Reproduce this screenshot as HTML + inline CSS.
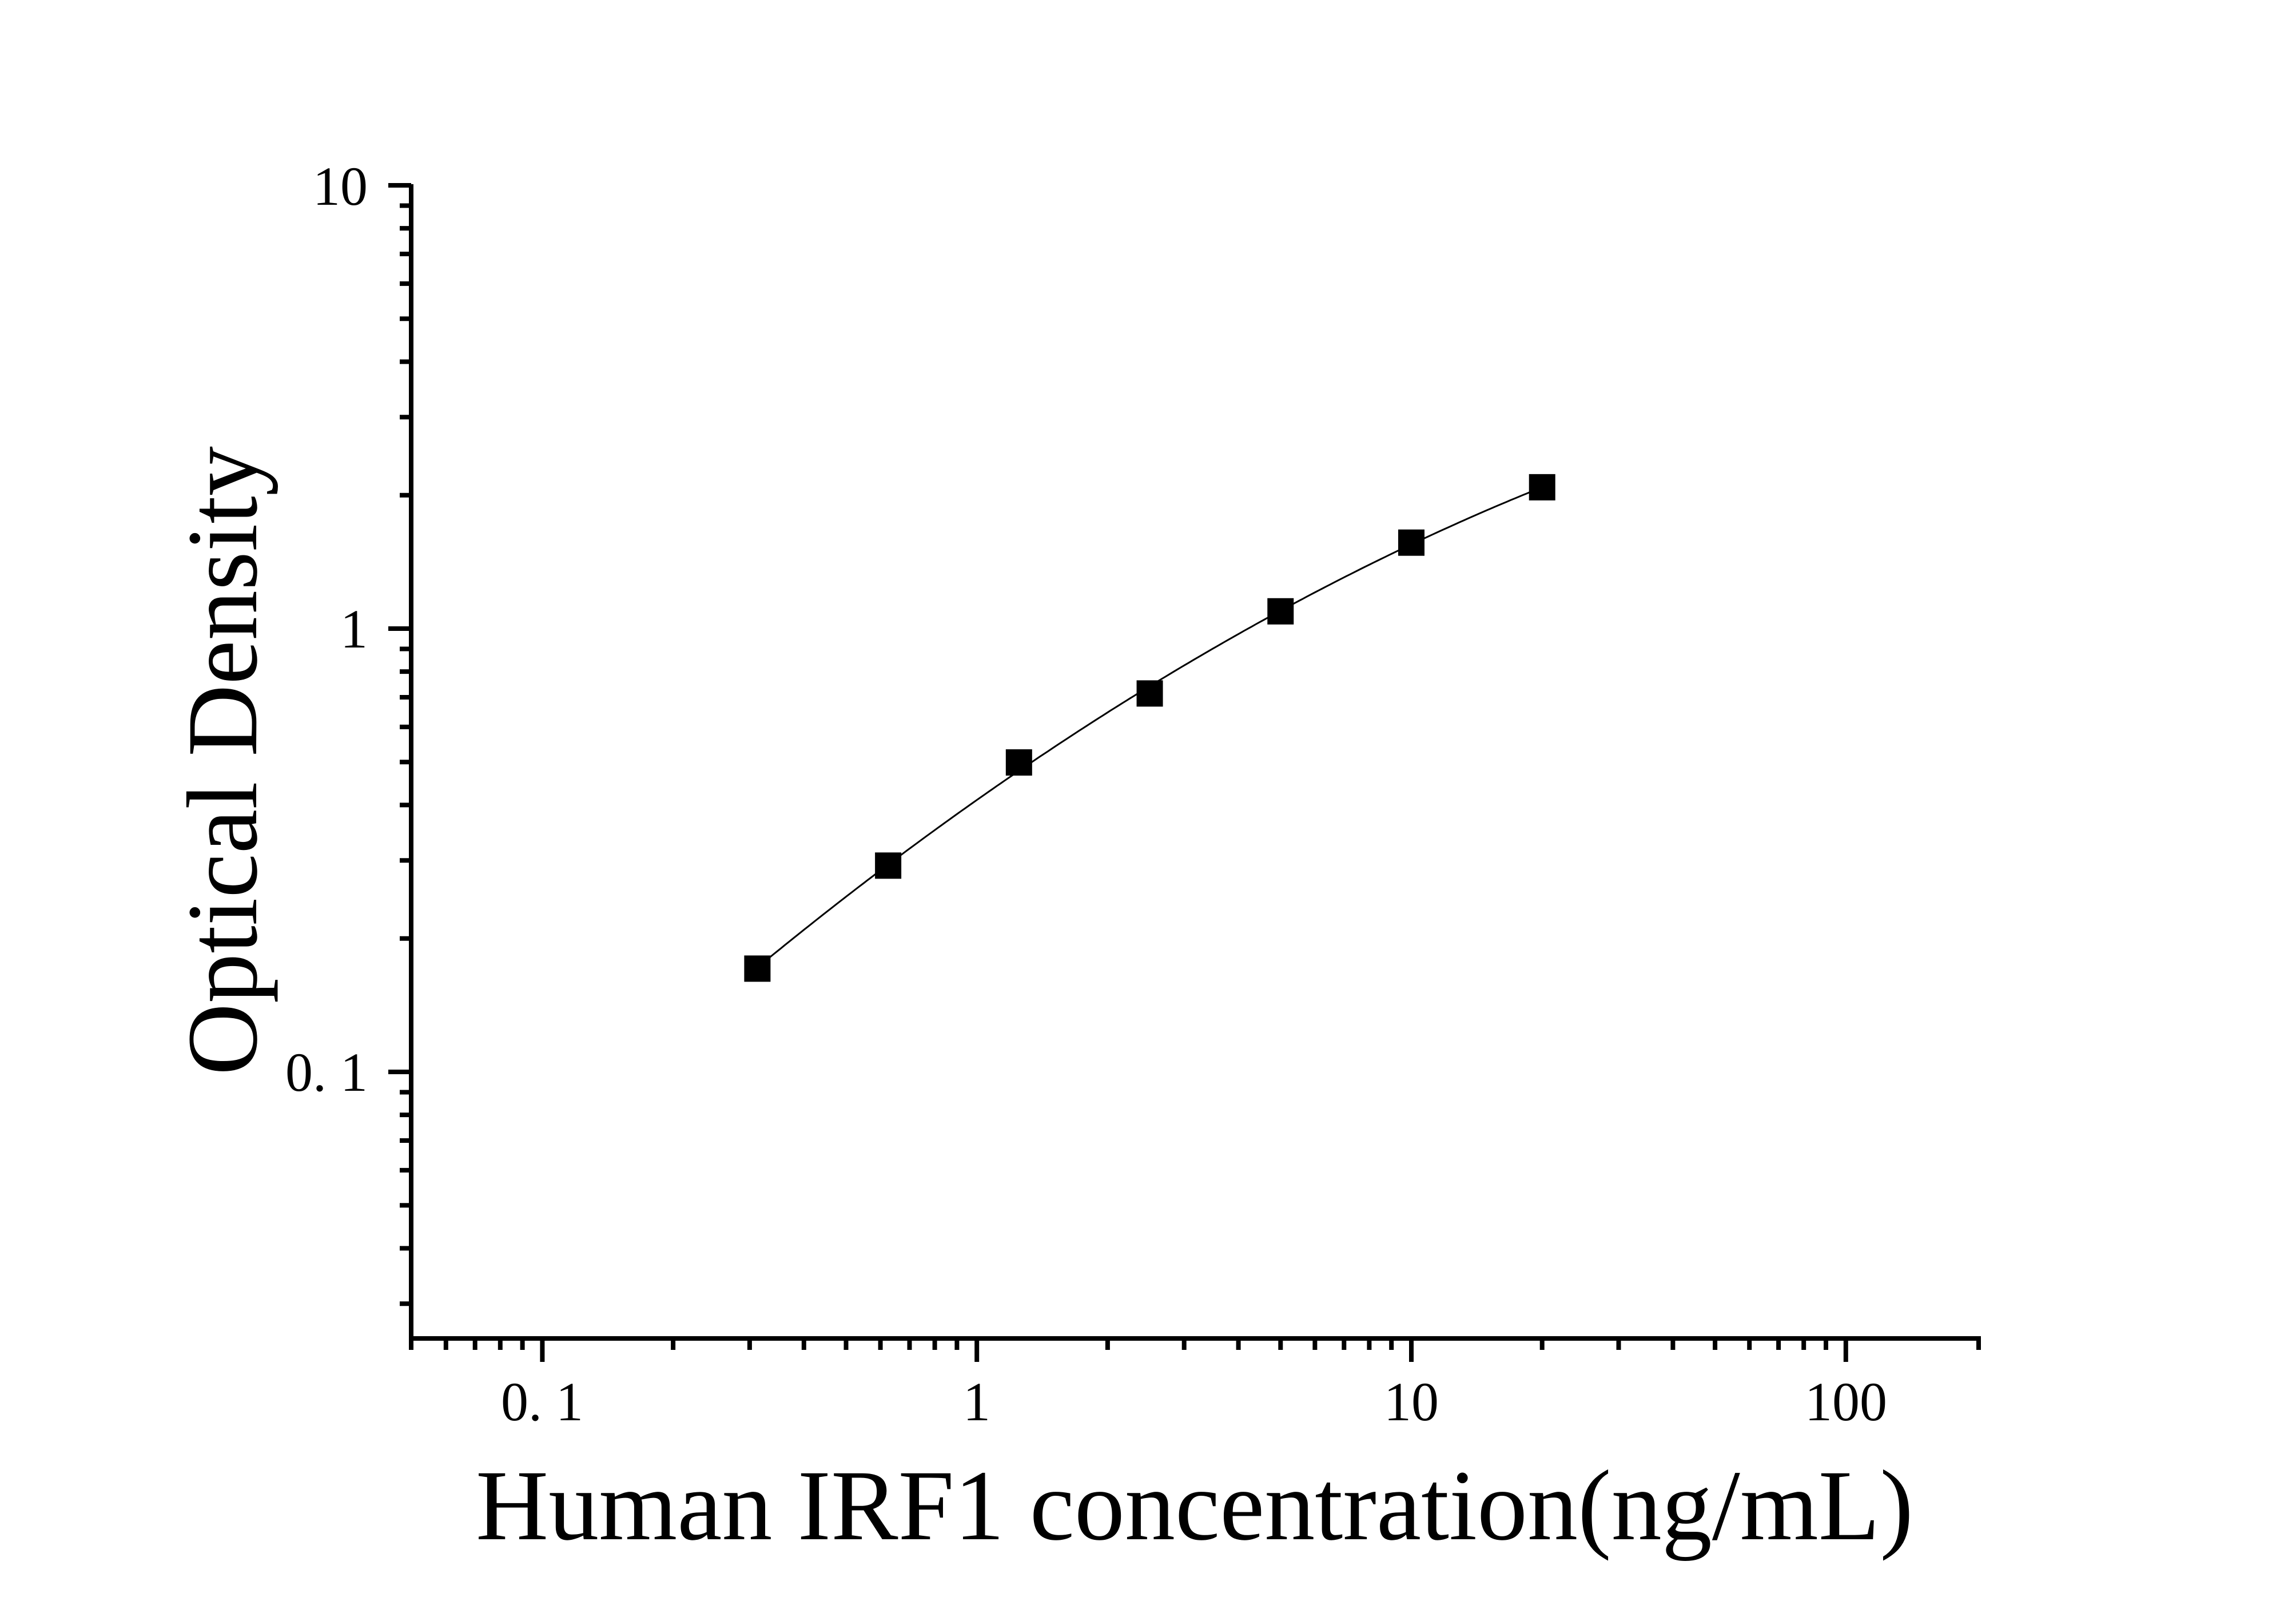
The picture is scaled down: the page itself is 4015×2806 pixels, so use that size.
<!DOCTYPE html>
<html><head><meta charset="utf-8"><style>
html,body{margin:0;padding:0;background:#fff;}
svg{display:block;}
text{font-family:"Liberation Serif",serif;fill:#000;}
</style></head><body>
<svg id="s" width="4015" height="2806" viewBox="0 0 4015 2806" xmlns="http://www.w3.org/2000/svg">
<rect width="4015" height="2806" fill="#fff"/>
<g id="ax" stroke="#000" stroke-width="8" fill="none"></g>
<path id="curve" stroke="#000" stroke-width="3" fill="none"/>
<g id="pts" fill="#000"></g>
<g font-size="96">
<text x="643" y="358" text-anchor="end">10</text>
<text x="643" y="1132" text-anchor="end">1</text>
<text x="643" y="1907" text-anchor="end">0. 1</text>
<text x="948" y="2483" text-anchor="middle">0. 1</text>
<text x="1708" y="2483" text-anchor="middle">1</text>
<text x="2468" y="2483" text-anchor="middle">10</text>
<text x="3228" y="2483" text-anchor="middle">100</text>
</g>
<text x="2089" y="2691" font-size="176" text-anchor="middle" textLength="2514" lengthAdjust="spacingAndGlyphs">Human IRF1 concentration(ng/mL)</text>
<text transform="translate(448,1330) rotate(-90)" font-size="176" text-anchor="middle" textLength="1100" lengthAdjust="spacingAndGlyphs">Optical Density</text>
</svg>
<script>
var X0=948.4,DX=759.8,Y1=1099,DY=775;
function px(v){return X0+(Math.log10(v)+1)*DX;}
function py(v){return Y1-Math.log10(v)*DY;}
var ax=document.getElementById('ax'),h='';
h+='<path d="M719 322 V2344 M715 2340 H3464"/>';
[0.05,0.06,0.07,0.08,0.09,0.2,0.3,0.4,0.5,0.6,0.7,0.8,0.9,2,3,4,5,6,7,8,9,20,30,40,50,60,70,80,90,200].forEach(function(v){var x=px(v);if(v==200)x=3460;if(v==0.05)x=719;h+='<path d="M'+x.toFixed(1)+' 2340 V2360"/>';});
[0.1,1,10,100].forEach(function(v){var x=px(v);h+='<path d="M'+x.toFixed(1)+' 2340 V2381"/>';});
[0.03,0.04,0.05,0.06,0.07,0.08,0.09,0.2,0.3,0.4,0.5,0.6,0.7,0.8,0.9,2,3,4,5,6,7,8,9].forEach(function(v){var y=py(v);h+='<path d="M719 '+y.toFixed(1)+' H699"/>';});
[0.1,1,10].forEach(function(v){var y=py(v);h+='<path d="M719 '+y.toFixed(1)+' H679"/>';});
ax.innerHTML=h;
var xs=[0.3125,0.625,1.25,2.5,5,10,20],ys=[0.171,0.292,0.499,0.714,1.094,1.563,2.084];
var P=xs.map(function(x,i){return [px(x),py(ys[i])];});
var g='';P.forEach(function(p){g+='<rect x="'+(p[0]-23)+'" y="'+(p[1]-23)+'" width="46" height="46"/>';});
document.getElementById('pts').innerHTML=g;
// quadratic least squares in log-log
var n=xs.length,S=[0,0,0,0,0],T=[0,0,0];
for(var i=0;i<n;i++){var u=Math.log10(xs[i]),v=Math.log10(ys[i]);var pu=1;for(var k=0;k<5;k++){S[k]+=pu;if(k<3)T[k]+=pu*v;pu*=u;}}
var A=[[S[0],S[1],S[2],T[0]],[S[1],S[2],S[3],T[1]],[S[2],S[3],S[4],T[2]]];
for(var c=0;c<3;c++){for(var r=c+1;r<3;r++){var f=A[r][c]/A[c][c];for(var k=c;k<4;k++)A[r][k]-=f*A[c][k];}}
var b=[0,0,0];for(var r=2;r>=0;r--){var s=A[r][3];for(var k=r+1;k<3;k++)s-=A[r][k]*b[k];b[r]=s/A[r][r];}
var d='',u0=Math.log10(0.3125),u1=Math.log10(20);
for(var j=0;j<=200;j++){var u=u0+(u1-u0)*j/200;var v=b[0]+b[1]*u+b[2]*u*u;var x=X0+(u+1)*DX,y=Y1-v*DY;d+=(j?' L':'M')+x.toFixed(1)+' '+y.toFixed(1);}
document.getElementById('curve').setAttribute('d',d);
</script>
</body></html>
